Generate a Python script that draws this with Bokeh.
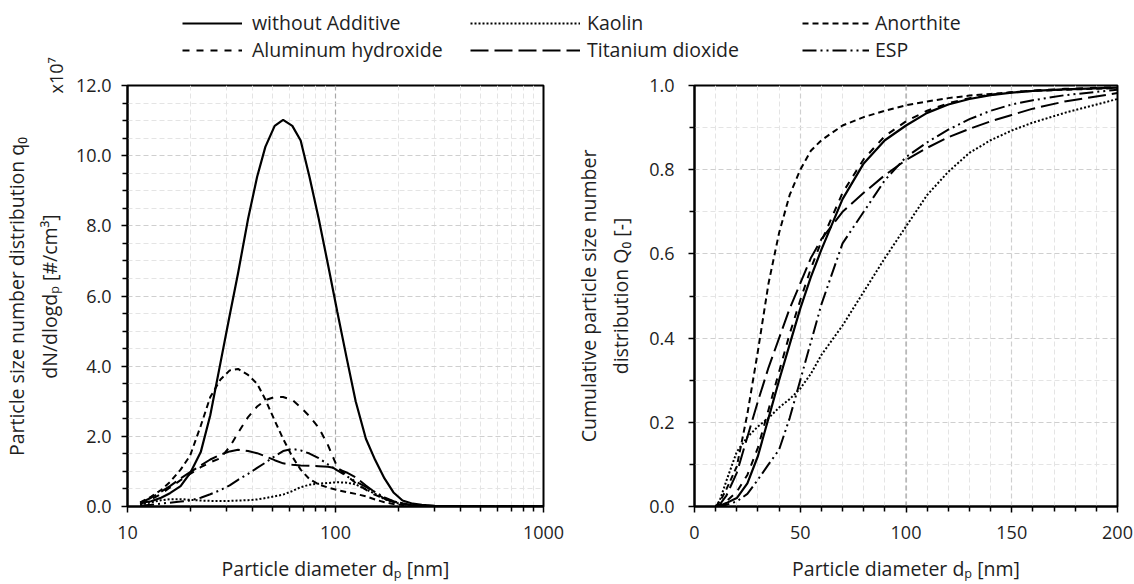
from bokeh.plotting import figure
from bokeh.models import (FixedTicker, PrintfTickFormatter, Legend, LegendItem,
                          Label, Span, Range1d)
from bokeh.layouts import column, row
from bokeh.embed import file_html
from bokeh.resources import INLINE

FONT = "Open Sans"
TXT = "#1e1e1e"

# ---------------- data ----------------
names = ["without Additive", "Kaolin", "Anorthite",
         "Aluminum hydroxide", "Titanium dioxide", "ESP"]

# left panel: number distribution q0, dN/dlogdp in units of 1e7 #/cm3
d_left = [11.5, 13, 14.5, 16, 18, 20, 22.5, 25, 28, 31, 34, 38, 42, 46, 51, 56, 62, 68,
          75, 83, 92, 102, 113, 125, 140, 155, 172, 190, 210, 235, 260, 300, 350, 420,
          500, 600, 750, 1000]
q_without = [0.10, 0.15, 0.25, 0.38, 0.58, 0.95, 1.55, 2.6, 4.1, 5.45, 6.65, 8.2, 9.4,
             10.25, 10.85, 11.02, 10.85, 10.43, 9.39, 8.21, 6.9, 5.55, 4.25, 3.0, 1.93,
             1.33, 0.8, 0.4, 0.17, 0.08, 0.05, 0.02, 0.01, 0.005, 0.003, 0.002, 0.001, 0.001]
q_kaolin = [0.05, 0.12, 0.18, 0.21, 0.21, 0.19, 0.17, 0.16, 0.16, 0.16, 0.17, 0.18, 0.2,
            0.24, 0.29, 0.34, 0.44, 0.55, 0.62, 0.65, 0.67, 0.69, 0.68, 0.63, 0.49, 0.36,
            0.21, 0.12, 0.06, 0.03, 0.015, 0.008, 0.004, 0.002, 0.001, 0.0, 0.0, 0.0]
q_anorthite = [0.12, 0.28, 0.47, 0.7, 1.05, 1.45, 2.3, 3.12, 3.62, 3.88, 3.92, 3.75, 3.5,
               3.05, 2.45, 1.93, 1.42, 1.05, 0.78, 0.63, 0.54, 0.47, 0.41, 0.36, 0.29,
               0.2, 0.12, 0.07, 0.04, 0.02, 0.01, 0.005, 0.003, 0.002, 0.001, 0.0, 0.0, 0.0]
q_alu = [0.07, 0.2, 0.36, 0.54, 0.75, 0.93, 1.12, 1.26, 1.38, 1.7, 2.1, 2.55, 2.85, 3.03,
         3.12, 3.12, 3.04, 2.83, 2.57, 2.25, 1.75, 1.12, 0.88, 0.67, 0.48, 0.33, 0.22,
         0.15, 0.09, 0.05, 0.03, 0.015, 0.008, 0.004, 0.002, 0.001, 0.0, 0.0]
q_ti = [0.1, 0.25, 0.42, 0.58, 0.8, 0.98, 1.17, 1.34, 1.48, 1.57, 1.62, 1.58, 1.52, 1.43,
        1.32, 1.23, 1.19, 1.17, 1.16, 1.15, 1.13, 1.08, 0.97, 0.83, 0.6, 0.4, 0.22, 0.13,
        0.07, 0.035, 0.02, 0.01, 0.005, 0.003, 0.002, 0.001, 0.0, 0.0]
q_esp = [0.02, 0.05, 0.08, 0.11, 0.14, 0.17, 0.25, 0.35, 0.47, 0.6, 0.76, 0.93, 1.1, 1.25,
         1.43, 1.58, 1.64, 1.6, 1.51, 1.38, 1.2, 1.03, 0.87, 0.71, 0.56, 0.41, 0.26, 0.15,
         0.08, 0.04, 0.02, 0.01, 0.005, 0.003, 0.002, 0.001, 0.0, 0.0]

# right panel: cumulative number distribution Q0
d_right = [10, 12, 15, 20, 25, 30, 35, 40, 45, 50, 55, 60, 70, 80, 90, 100, 110, 120,
           130, 140, 150, 160, 175, 200]
Q_without = [0, 0.002, 0.008, 0.02, 0.055, 0.12, 0.21, 0.30, 0.385, 0.47, 0.545, 0.61,
             0.73, 0.815, 0.87, 0.905, 0.935, 0.955, 0.968, 0.977, 0.983, 0.987, 0.991, 0.995]
Q_kaolin = [0, 0.015, 0.06, 0.13, 0.165, 0.19, 0.21, 0.235, 0.255, 0.28, 0.315, 0.36,
            0.43, 0.51, 0.59, 0.665, 0.74, 0.795, 0.84, 0.87, 0.893, 0.912, 0.935, 0.968]
Q_anorthite = [0, 0.012, 0.04, 0.095, 0.22, 0.37, 0.53, 0.65, 0.74, 0.80, 0.845, 0.87,
               0.905, 0.925, 0.94, 0.953, 0.962, 0.97, 0.976, 0.98, 0.984, 0.987, 0.99, 0.994]
Q_alu = [0, 0.003, 0.012, 0.035, 0.075, 0.14, 0.23, 0.32, 0.41, 0.49, 0.565, 0.63, 0.745,
         0.825, 0.88, 0.915, 0.94, 0.958, 0.97, 0.978, 0.984, 0.988, 0.992, 0.996]
Q_ti = [0, 0.005, 0.025, 0.08, 0.165, 0.25, 0.33, 0.40, 0.47, 0.53, 0.59, 0.635, 0.70,
        0.745, 0.787, 0.823, 0.852, 0.877, 0.897, 0.915, 0.93, 0.945, 0.962, 0.982]
Q_esp = [0, 0, 0.004, 0.012, 0.03, 0.064, 0.10, 0.135, 0.21, 0.30, 0.39, 0.48, 0.625,
         0.70, 0.775, 0.83, 0.865, 0.895, 0.92, 0.94, 0.955, 0.965, 0.977, 0.99]

# axis ticks / labels
left_x_ticks = [10, 100, 1000]
left_x_minor = [20, 30, 40, 50, 60, 70, 80, 90, 200, 300, 400, 500, 600, 700, 800, 900]
left_y_ticks = [0, 2, 4, 6, 8, 10, 12]
left_y_minor = [0.5, 1, 1.5, 2.5, 3, 3.5, 4.5, 5, 5.5, 6.5, 7, 7.5, 8.5, 9, 9.5,
                10.5, 11, 11.5]
right_x_ticks = [0, 50, 100, 150, 200]
right_x_minor = [10, 20, 30, 40, 60, 70, 80, 90, 110, 120, 130, 140, 160, 170, 180, 190]
right_y_ticks = [0, 0.2, 0.4, 0.6, 0.8, 1.0]
right_y_minor = [0.1, 0.3, 0.5, 0.7, 0.9]

left_y_title = ["Particle size number distribution q₀", "dN/dlogdₚ [#/cm³]"]
left_scale = "x10⁷"

q_series = [q_without, q_kaolin, q_anorthite, q_alu, q_ti, q_esp]
Q_series = [Q_without, Q_kaolin, Q_anorthite, Q_alu, Q_ti, Q_esp]

# ---------------- styles ----------------
dashes = ["solid", "2 2", "6 4", "7 7", "18 6", "14 4 2 4 2 4"]
widths = [2.2, 2, 2, 2, 2, 2]
SIDE_W = 70


def style(p, xlabel, ylabel, label_standoff_y, title_standoff_y):
    p.outline_line_color = "black"
    p.outline_line_width = 2
    p.background_fill_color = "white"
    p.border_fill_color = "white"
    for ax in p.axis:
        ax.axis_line_color = "black"
        ax.axis_line_width = 2
        ax.major_tick_line_color = "black"
        ax.major_tick_line_width = 1.5
        ax.major_tick_out = 6
        ax.major_tick_in = 0
        ax.minor_tick_line_color = "black"
        ax.minor_tick_line_width = 1.5
        ax.minor_tick_out = 5
        ax.minor_tick_in = 0
        ax.major_label_text_font = FONT
        ax.major_label_text_font_size = "18px"
        ax.major_label_text_color = TXT
        ax.axis_label_text_font = FONT
        ax.axis_label_text_font_size = "19.5px"
        ax.axis_label_text_font_style = "normal"
        ax.axis_label_text_color = TXT
    p.xaxis.axis_label = xlabel
    if ylabel:
        p.yaxis.axis_label = ylabel
    p.xaxis.major_label_standoff = 13
    p.xaxis.axis_label_standoff = 13
    p.yaxis.major_label_standoff = label_standoff_y
    p.yaxis.axis_label_standoff = title_standoff_y
    p.yaxis.axis_label_text_line_height = 1.2
    p.xgrid.grid_line_dash = "5 3"
    p.ygrid.grid_line_dash = "5 3"
    p.xgrid.minor_grid_line_dash = "5 3"
    p.ygrid.minor_grid_line_dash = "5 3"
    p.ygrid.grid_line_color = "#cfcfcf"
    p.ygrid.grid_line_width = 1.2
    p.xgrid.minor_grid_line_color = "#e4e4e4"
    p.ygrid.minor_grid_line_color = "#e4e4e4"


# ---------------- side strip: left y title + scale factor ----------------
side = figure(width=SIDE_W, height=584, x_range=Range1d(0, 1), y_range=Range1d(0, 1),
              toolbar_location=None, output_backend="svg",
              x_axis_location=None, y_axis_location=None, min_border=0)
side.grid.visible = False
side.outline_line_color = None
for txt, sx in zip(left_y_title, [16, 49]):
    side.add_layout(Label(x=sx, y=288, x_units="screen", y_units="screen", text=txt,
                          angle=90, angle_units="deg", text_font=FONT,
                          text_font_size="19.5px", text_color=TXT,
                          text_align="center", text_baseline="middle"))
side.add_layout(Label(x=55, y=491, x_units="screen", y_units="screen", text=left_scale,
                      angle=90, angle_units="deg", text_font=FONT, text_font_size="18px",
                      text_color=TXT, text_align="left", text_baseline="middle"))

# ---------------- legend strip ----------------
top = figure(width=1134 - SIDE_W, height=63, x_range=Range1d(0, 1), y_range=Range1d(0, 1),
             toolbar_location=None, output_backend="svg",
             x_axis_location=None, y_axis_location=None, min_border=0)
top.grid.visible = False
top.outline_line_color = None
# legend carriers: the same series, lying outside this strip's visible range
carriers = []
for Q, dsh, w in zip(Q_series, dashes, widths):
    carriers.append(top.line(d_right, Q, line_color="black", line_dash=dsh, line_width=w))

legend_cols = [([0, 3], 182, 60, 10), ([1, 4], 470, 110, 7), ([2, 5], 802, 67, 6)]
for idx, lx, gw, st in legend_cols:
    lg = Legend(items=[LegendItem(label=names[i], renderers=[carriers[i]]) for i in idx],
                location=(lx - SIDE_W, 0), orientation="vertical",
                glyph_width=gw, glyph_height=26, label_height=26, label_standoff=st,
                spacing=0, padding=0, margin=0,
                border_line_color=None, background_fill_alpha=0,
                label_text_font=FONT, label_text_font_size="19.5px",
                label_text_color=TXT)
    top.add_layout(lg)

# ---------------- left panel ----------------
p1 = figure(width=571 - SIDE_W, height=521, x_axis_type="log",
            x_range=Range1d(10, 1000), y_range=Range1d(0, 12),
            toolbar_location=None, output_backend="svg",
            min_border_left=127 - SIDE_W, min_border_right=28, min_border_top=22,
            min_border_bottom=78)
style(p1, "Particle diameter dₚ [nm]", None, 10, 10)
p1.xaxis.ticker = FixedTicker(ticks=left_x_ticks, minor_ticks=left_x_minor)
p1.xaxis.formatter = PrintfTickFormatter(format="%d")
p1.yaxis.ticker = FixedTicker(ticks=left_y_ticks, minor_ticks=left_y_minor)
p1.yaxis.formatter = PrintfTickFormatter(format="%.1f")
p1.xgrid.grid_line_color = "#a8a8a8"
p1.xgrid.grid_line_width = 1.2
for q, dsh, w in zip(q_series, dashes, widths):
    p1.line(d_left, q, line_color="black", line_dash=dsh, line_width=w)

# ---------------- right panel ----------------
p2 = figure(width=563, height=521,
            x_range=Range1d(0, 200), y_range=Range1d(0, 1),
            toolbar_location=None, output_backend="svg",
            min_border_left=122, min_border_right=17, min_border_top=22,
            min_border_bottom=78)
style(p2, "Particle diameter dₚ [nm]",
      "Cumulative particle size number\ndistribution Q₀ [-]", 14, 12)
p2.xaxis.ticker = FixedTicker(ticks=right_x_ticks, minor_ticks=right_x_minor)
p2.xaxis.formatter = PrintfTickFormatter(format="%d")
p2.yaxis.ticker = FixedTicker(ticks=right_y_ticks, minor_ticks=right_y_minor)
p2.yaxis.formatter = PrintfTickFormatter(format="%.1f")
p2.xgrid.grid_line_color = "#cfcfcf"
p2.xgrid.grid_line_width = 1.2
p2.add_layout(Span(location=100, dimension="height", line_color="#a8a8a8",
                   line_dash="5 3", line_width=1.2, level="underlay"))
for Q, dsh, w in zip(Q_series, dashes, widths):
    p2.line(d_right, Q, line_color="black", line_dash=dsh, line_width=w)

layout = row(side, column(top, row(p1, p2)))
open("out.html", "w").write(file_html(layout, INLINE))
